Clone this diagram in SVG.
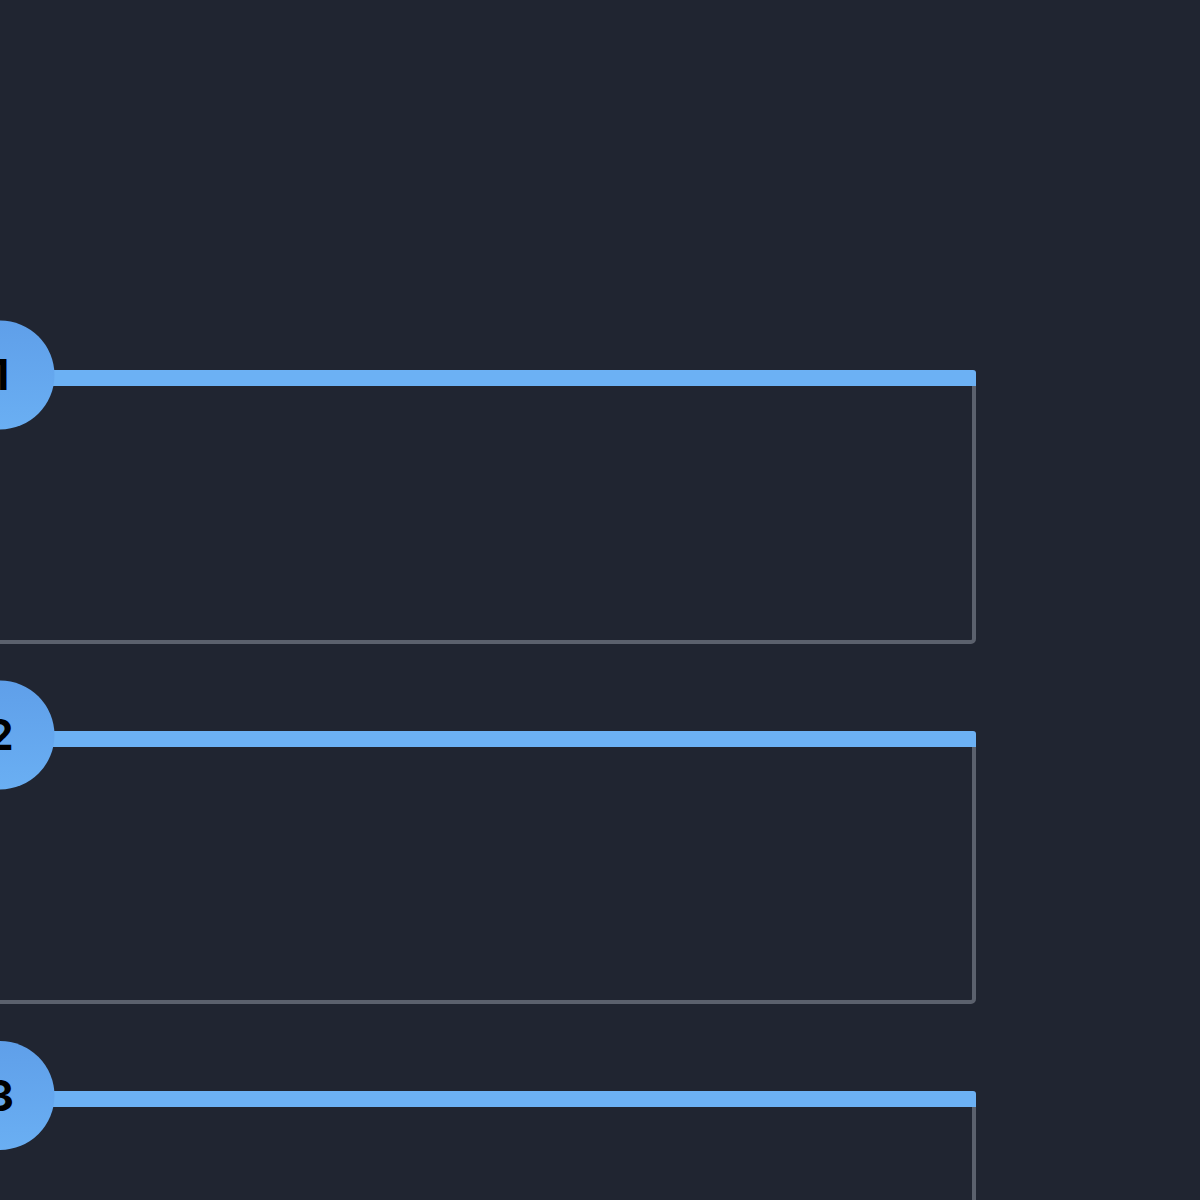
<svg xmlns="http://www.w3.org/2000/svg" width="1200" height="1200" viewBox="0 0 1200 1200">
  <defs>
    <linearGradient id="cg" x1="0" y1="0" x2="0" y2="1">
      <stop offset="0" stop-color="#5f9fe9"/>
      <stop offset="1" stop-color="#6aaff3"/>
    </linearGradient>
    <style>
      .frame { fill: none; stroke: #5b616d; stroke-width: 4; }
      .bar { fill: #6cb1f4; }
      .badge { fill: url(#cg); }
      .num { font-family: Inter, "Liberation Sans", sans-serif; font-weight: 700; font-size: 43px; fill: #000; text-anchor: middle; }
    </style>
  </defs>
  <rect width="1200" height="1200" fill="#202531"/>
  <g id="connectors"></g>
  <g id="card-1">
    <rect class="frame" x="-20" y="378" width="994" height="264" rx="3"/>
    <path class="bar" d="M-10 370 H973 A3 3 0 0 1 976 373 V386 H-10 Z"/>
    <circle class="badge" cx="0" cy="375" r="54.5"/>
    <text class="num" x="0" y="390">1</text>
  </g>
  <g id="card-2">
    <rect class="frame" x="-20" y="739" width="994" height="263" rx="3"/>
    <path class="bar" d="M-10 731 H973 A3 3 0 0 1 976 734 V747 H-10 Z"/>
    <circle class="badge" cx="0" cy="735" r="54.5"/>
    <text class="num" x="0" y="750">2</text>
  </g>
  <g id="card-3">
    <rect class="frame" x="-20" y="1099" width="994" height="264" rx="3"/>
    <path class="bar" d="M-10 1091 H973 A3 3 0 0 1 976 1094 V1107 H-10 Z"/>
    <circle class="badge" cx="0" cy="1095.5" r="54.5"/>
    <text class="num" x="0" y="1111">3</text>
  </g>
</svg>
